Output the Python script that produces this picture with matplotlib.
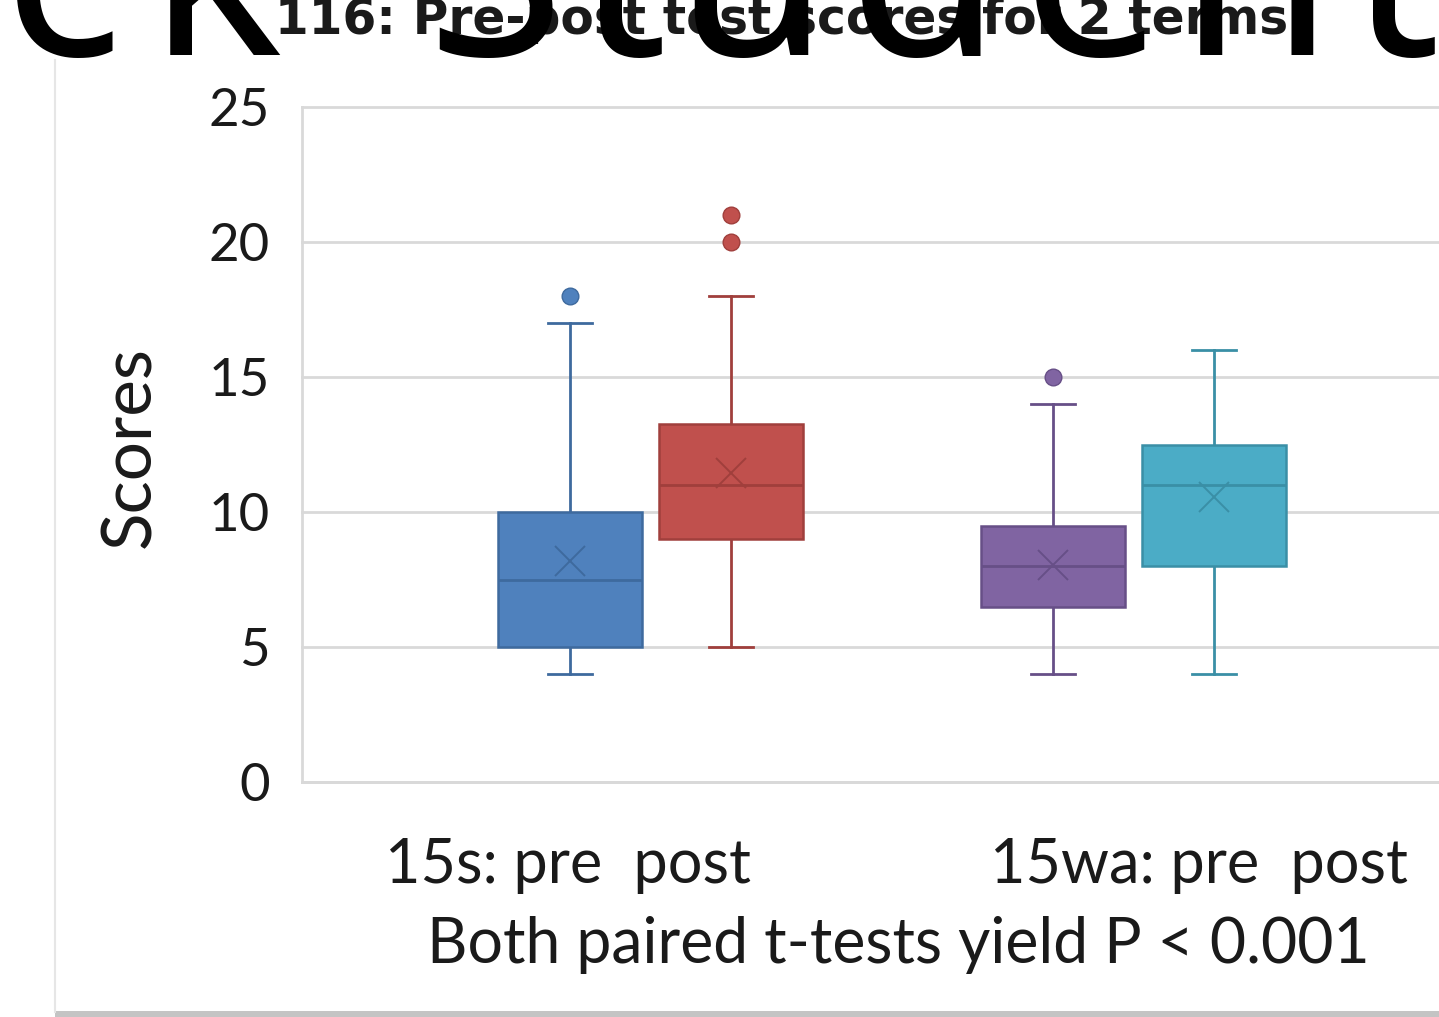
import matplotlib.pyplot as plt
from matplotlib.lines import Line2D
from matplotlib.patches import Rectangle

# box plot summaries
groups = ["15s pre", "15s post", "15wa pre", "15wa post"]
positions = [1, 2, 4, 5]
q1 = [5, 9, 6.5, 8]
med = [7.5, 11, 8, 11]
q3 = [10, 13.25, 9.5, 12.5]
whislo = [4, 5, 4, 4]
whishi = [17, 18, 14, 16]
means = [8.2, 11.45, 8.05, 10.55]
fliers = [[18], [20, 21], [15], []]

fills = ["#4F81BD", "#C0504D", "#8064A2", "#4BACC6"]
edges = ["#3E6A9E", "#A03F3C", "#674F87", "#3A8FA6"]

yticks = [0, 5, 10, 15, 20, 25]

W, H = 1439, 1017
fig = plt.figure(figsize=(W / 100, H / 100), dpi=100)
fig.patch.set_facecolor("white")

ax = fig.add_axes([302 / W, 235 / H, 1 - 302 / W, 675 / H])

stats = []
for i in range(len(groups)):
    stats.append(dict(label=groups[i], q1=q1[i], med=med[i], q3=q3[i],
                      whislo=whislo[i], whishi=whishi[i], mean=means[i],
                      fliers=fliers[i]))

bp = ax.bxp(stats, positions=positions, widths=0.9, patch_artist=True,
            showmeans=True, showfliers=True, capwidths=0.27)

for i in range(len(groups)):
    bp["boxes"][i].set(facecolor=fills[i], edgecolor=edges[i], linewidth=1.8, zorder=3)
    bp["medians"][i].set(color=edges[i], linewidth=2, zorder=4)
    for ln in bp["whiskers"][2 * i:2 * i + 2] + bp["caps"][2 * i:2 * i + 2]:
        ln.set(color=edges[i], linewidth=2, zorder=2)
    bp["means"][i].set(marker="x", markersize=21, markeredgewidth=1.4,
                       markeredgecolor=edges[i], zorder=5)
    bp["fliers"][i].set(marker="o", markersize=12, markerfacecolor=fills[i],
                        markeredgecolor=edges[i], markeredgewidth=1, zorder=5)

ax.set_xlim(-0.665, 6.398)
ax.set_ylim(0, 25)
ax.set_yticks(yticks)
ax.set_yticklabels([str(t) for t in yticks], fontsize=38, family="Lato", color="#1a1a1a")
ax.set_xticks([])
ax.tick_params(axis="y", length=0, pad=23)
ax.yaxis.grid(True, color="#d9d9d9", linewidth=2)
for g in ax.yaxis.get_gridlines():
    g.set_clip_on(False)
ax.set_axisbelow(True)
for s in ["top", "right"]:
    ax.spines[s].set_visible(False)
ax.spines["left"].set_color("#d9d9d9")
ax.spines["left"].set_linewidth(2)
ax.spines["bottom"].set_color("#d9d9d9")
ax.spines["bottom"].set_linewidth(2)

# axis titles and category text
fig.text(131 / W, 1 - 447 / H, "Scores", rotation=90, fontsize=50, family="Lato",
         ha="center", va="center", color="#1a1a1a")
fig.text(568 / W, 1 - 883 / H, "15s: pre  post", fontsize=44, family="Lato",
         ha="center", va="baseline", color="#1a1a1a")
fig.text(1199 / W, 1 - 883 / H, "15wa: pre  post", fontsize=44, family="Lato",
         ha="center", va="baseline", color="#1a1a1a")
fig.text(898 / W, 1 - 963 / H, "Both paired t-tests yield P < 0.001", fontsize=45,
         family="Lato", ha="center", va="baseline", color="#1a1a1a")

# chart title (partly hidden under the watermark)
fig.text(275 / W, 1 - 34 / H, "116: Pre-post test scores for 2 terms", fontsize=35,
         family="DejaVu Sans", weight="bold", ha="left", va="baseline", color="#1a1a1a")

# big watermark letters across the top edge
wm_letters = ["c", "k", "S", "t", "u", "d", "e", "n", "t"]
wm_centers = [62, 215, 495, 622, 752, 924, 1092, 1256, 1395]
for ch, cx in zip(wm_letters, wm_centers):
    fig.text(cx / W, 1 - 55 / H, ch, fontsize=180, family="Noto Sans",
             ha="center", va="baseline", color="black", zorder=10)

# chart area border and bottom shadow
fig.add_artist(Line2D([55 / W, 55 / W], [5 / H, 1 - 60 / H], transform=fig.transFigure,
                      color="#e6e6e6", linewidth=1.5))
fig.add_artist(Rectangle((55 / W, 0), 1 - 55 / W, 6 / H, transform=fig.transFigure,
                         facecolor="#c4c4c4", edgecolor="none"))

fig.savefig("out.png", dpi=100)
